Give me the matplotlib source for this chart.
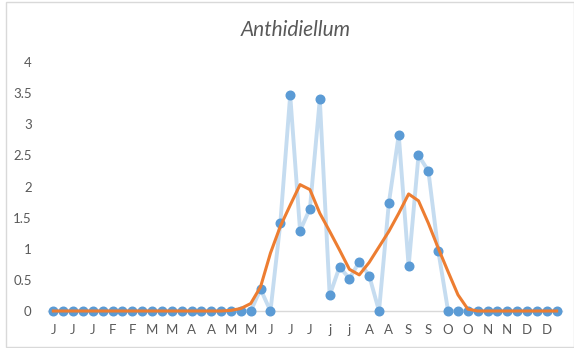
import numpy as np
import matplotlib.pyplot as plt
from matplotlib.patches import Rectangle

plt.rcParams["font.family"] = ["Lato", "DejaVu Sans"]

# weekly observations (52 weeks)
counts = [0, 0, 0, 0, 0, 0, 0, 0, 0, 0, 0, 0, 0, 0, 0, 0, 0, 0,
          0, 0, 0, 0.35, 0, 1.41, 3.47, 1.29, 1.645, 3.40, 0.25, 0.71,
          0.52, 0.79, 0.57, 0, 1.74, 2.83, 0.72, 2.50, 2.25, 0.97,
          0, 0, 0, 0, 0, 0, 0, 0, 0, 0, 0, 0]

# smoothed trend
trend = [0, 0, 0, 0, 0, 0, 0, 0, 0, 0, 0, 0, 0, 0, 0, 0, 0, 0,
         0.01, 0.04, 0.12, 0.39, 0.93, 1.36, 1.70, 2.03, 1.95, 1.57, 1.28, 0.98,
         0.67, 0.58, 0.78, 1.03, 1.28, 1.57, 1.88, 1.77, 1.41, 1.01,
         0.63, 0.26, 0.03, 0, 0, 0, 0, 0, 0, 0, 0, 0]

tick_labels = ["J", "J", "J", "F", "F", "M", "M", "A", "A", "M", "M", "J", "J",
               "J", "j", "j", "A", "A", "S", "S", "O", "O", "N", "N", "D", "D"]
y_ticks = [0, 0.5, 1, 1.5, 2, 2.5, 3, 3.5, 4]

grey = "#595959"
W, H = 574, 348
fig = plt.figure(figsize=(W / 100, H / 100), dpi=100)

# chart border
fig.patches.append(Rectangle((6 / W, 1 / H), (W - 6) / W, (H - 3) / H,
                             transform=fig.transFigure, fill=False,
                             edgecolor="#D9D9D9", linewidth=1))

ax = fig.add_axes([48.4 / W, 37 / H, (561.6 - 48.4) / W, (311 - 62) / H])

x = np.arange(len(counts))
ax.plot(x, counts, color="#C5DCF0", linewidth=2.8, zorder=2, clip_on=False)
ax.plot(x, counts, linestyle="none", marker="o", markersize=6.2,
        color="#5B9BD5", zorder=3, clip_on=False)
ax.plot(x, trend, color="#ED7D31", linewidth=2.2, zorder=4, clip_on=False)

ax.set_xlim(-0.5, len(counts) - 0.5)
ax.set_ylim(0, 4)
ax.set_yticks(y_ticks)
ax.set_yticklabels([f"{v:g}" for v in y_ticks])
ax.set_xticks(np.arange(0, len(counts), 2))
ax.set_xticklabels(tick_labels)

ax.tick_params(axis="both", length=0, colors=grey, labelsize=9.5)
ax.tick_params(axis="x", pad=9)
ax.tick_params(axis="y", pad=12)

for s in ["top", "right", "left"]:
    ax.spines[s].set_visible(False)
ax.spines["bottom"].set_color("#D9D9D9")
ax.spines["bottom"].set_linewidth(1)

fig.text(296 / W, 1 - 30 / H, "Anthidiellum", ha="center", va="center",
         fontsize=15, style="italic", color=grey)

fig.savefig("out.png", dpi=100)
